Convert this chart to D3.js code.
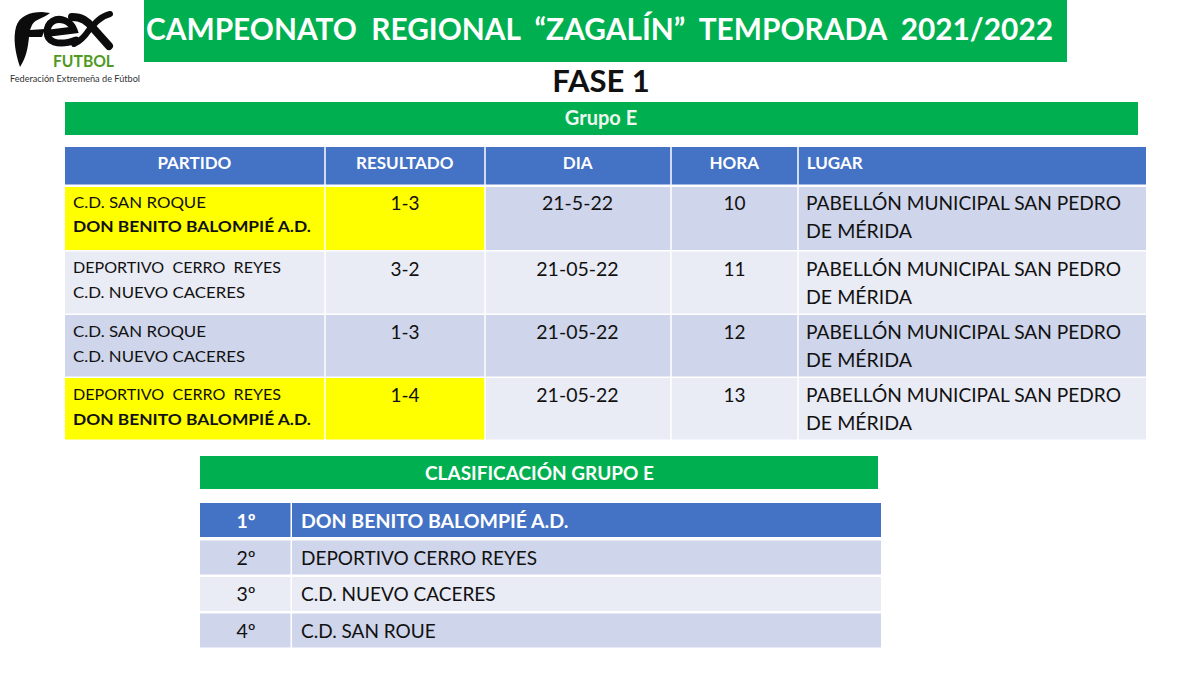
<!DOCTYPE html>
<html>
<head>
<meta charset="utf-8">
<script src="https://cdn.jsdelivr.net/npm/d3@7"></script>
<style>
  html, body { margin: 0; padding: 0; background: #fff; }
  svg { display: block; }
  text { font-family: Lato, "Open Sans", sans-serif; }
</style>
</head>
<body>
<div id="chart"></div>
<script>
const title = "CAMPEONATO  REGIONAL  “ZAGALÍN”  TEMPORADA  2021/2022";
const phase = "FASE 1";
const group = "Grupo E";
const standingsTitle = "CLASIFICACIÓN GRUPO E";

const columns = ["PARTIDO", "RESULTADO", "DIA", "HORA", "LUGAR"];
const homeTeams = ["C.D. SAN ROQUE", "DEPORTIVO  CERRO  REYES", "C.D. SAN ROQUE", "DEPORTIVO  CERRO  REYES"];
const awayTeams = ["DON BENITO BALOMPIÉ A.D.", "C.D. NUEVO CACERES", "C.D. NUEVO CACERES", "DON BENITO BALOMPIÉ A.D."];
const results = ["1-3", "3-2", "1-3", "1-4"];
const days = ["21-5-22", "21-05-22", "21-05-22", "21-05-22"];
const hours = ["10", "11", "12", "13"];
const venueLine1 = "PABELLÓN MUNICIPAL SAN PEDRO";
const venueLine2 = "DE MÉRIDA";

const positions = ["1º", "2º", "3º", "4º"];
const standings = ["DON BENITO BALOMPIÉ A.D.", "DEPORTIVO CERRO REYES", "C.D. NUEVO CACERES", "C.D. SAN ROUE"];

const GREEN = "#00b050", BLUE = "#4472c4", DARK = "#cfd5ea", LIGHT = "#e9ebf5", YELLOW = "#ffff00", INK = "#111";

const svg = d3.select("#chart").append("svg").attr("width", 1200).attr("height", 675);

function box(x, y, w, h, fill) {
  return svg.append("rect").attr("x", x).attr("y", y).attr("width", w).attr("height", h).attr("fill", fill);
}
function label(x, y, str, size, opts) {
  opts = opts || {};
  return svg.append("text")
    .attr("x", x).attr("y", y)
    .attr("font-size", size)
    .attr("font-weight", opts.bold ? 700 : 400)
    .attr("fill", opts.fill || INK)
    .attr("text-anchor", opts.anchor || "start")
    .style("white-space", "pre")
    .text(str);
}

// banners
box(144, 0, 923, 62, GREEN);
label(146, 40, title, 30, { bold: true, fill: "#fff" }).attr("textLength", 907).attr("lengthAdjust", "spacingAndGlyphs");
label(601, 92, phase, 31, { bold: true, anchor: "middle" });
box(65, 102, 1073, 33, GREEN);
label(601, 125, group, 20, { bold: true, fill: "#fff", anchor: "middle" }).attr("fill", "#eef7ee");

// logo
const logo = svg.append("g").attr("fill", "none").attr("stroke", "#0c0c0c").attr("stroke-linecap", "round");
logo.append("path").attr("fill", "#0c0c0c").attr("stroke", "none")
  .attr("d", "M20,67 C15,52 13,38 16,27 C19,16 30,12 42,12 L50,13 C44,18 35,19 32,25 L30,30 L45,29 L42,37 L29,37 C28,48 26,58 20,67 Z");
logo.append("path").attr("stroke-width", 7)
  .attr("d", "M50,33 L74,30 C71,21 60,17 53,21 C45,26 45,39 54,42 C60,44 68,43 76,40");
logo.append("path").attr("stroke-width", 8).attr("d", "M72,17 C82,17 87,21 92,27 L109,46");
logo.append("path").attr("stroke-width", 6).attr("d", "M110,14 C101,16 95,23 89,30 C85,36 81,41 74,44");
label(53, 67, "FUTBOL", 17, { bold: true, fill: "#4f9a23" }).attr("textLength", 61).attr("lengthAdjust", "spacingAndGlyphs");
label(10, 82, "Federación Extremeña de Fútbol", 9.5, { fill: "#333" }).attr("textLength", 130).attr("lengthAdjust", "spacingAndGlyphs");

// matches table
const colEdges = [65, 325.75, 485.75, 671.75, 798.75, 1146];
const rowEdges = [147, 186, 250.5, 314, 377, 440];
const rowIdx = d3.range(homeTeams.length);

columns.forEach((c, i) => {
  const w = colEdges[i + 1] - colEdges[i] - (i === 4 ? 0 : 1.5);
  box(colEdges[i], rowEdges[0], w, rowEdges[1] - rowEdges[0] - 1.5, BLUE);
  if (i === 4) label(colEdges[i] + 8, 169, c, 17, { bold: true, fill: "#fff" });
  else label((colEdges[i] + colEdges[i + 1]) / 2 - 1, 169, c, 17, { bold: true, fill: "#fff", anchor: "middle" });
});

rowIdx.forEach(r => {
  const y0 = rowEdges[r + 1] + 1, h = rowEdges[r + 2] - rowEdges[r + 1] - 1.5;
  const band = r % 2 === 0 ? DARK : LIGHT;
  const away = awayTeams[r].startsWith("DON");
  colEdges.slice(0, 5).forEach((x, i) => {
    const w = colEdges[i + 1] - x - (i === 4 ? 0 : 1.5);
    box(x, y0, w, h, (i < 2 && away) ? YELLOW : band);
  });
  const nudge = r === 0 ? 0 : 1;
  label(73, y0 + 20.5 + nudge, homeTeams[r], 15.5).attr("textLength", r % 2 ? 208 : 133).attr("lengthAdjust", "spacingAndGlyphs");
  label(73, y0 + 44.5 + nudge * 2, awayTeams[r], 15.5, { bold: away }).attr("textLength", away ? 238 : 172).attr("lengthAdjust", "spacingAndGlyphs");
  label(405, y0 + 23 + nudge, results[r], 19, { anchor: "middle" });
  label(577.5, y0 + 23 + nudge, days[r], 19.5, { anchor: "middle" });
  label(734.5, y0 + 23 + nudge, hours[r], 19, { anchor: "middle" });
  label(806, y0 + 23 + nudge, venueLine1, 18.5).attr("textLength", 315).attr("lengthAdjust", "spacingAndGlyphs");
  label(806, y0 + 51 + nudge, venueLine2, 18.5).attr("textLength", 106).attr("lengthAdjust", "spacingAndGlyphs");
});

// standings
box(200, 456, 678, 33, GREEN);
label(539.5, 480, standingsTitle, 19, { bold: true, fill: "#fff", anchor: "middle" });

const standY = d3.scaleBand().domain(d3.range(positions.length)).range([503, 649]);
positions.forEach((p, i) => {
  const y = standY(i), h = standY.bandwidth() - 2.5;
  const fill = i === 0 ? BLUE : (i % 2 ? DARK : LIGHT);
  box(200, y + (i === 0 ? 0 : 1), 90.5, h, fill);
  box(292, y + (i === 0 ? 0 : 1), 589, h, fill);
  const txt = i === 0 ? "#fff" : INK;
  label(246, y + 25, p, 19.5, { bold: i === 0, fill: txt, anchor: "middle" });
  label(301, y + 25, standings[i], i === 0 ? 19.5 : 19, { bold: i === 0, fill: txt });
});
</script>
</body>
</html>
